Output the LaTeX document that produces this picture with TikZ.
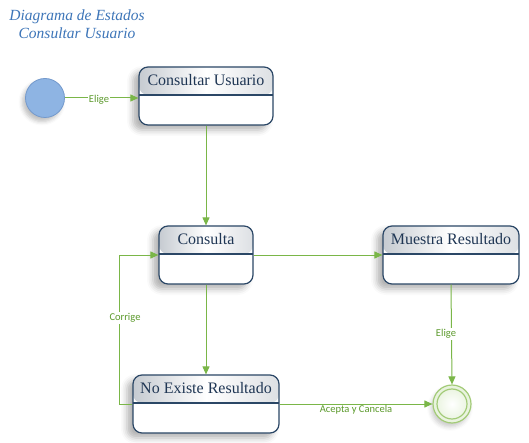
\documentclass[tikz,border=0pt]{standalone}
\usepackage{fontspec}
\setmainfont{Liberation Serif}
\newfontfamily\lblfont{Carlito}
\usetikzlibrary{arrows.meta,shadows.blur}
\definecolor{edgegreen}{HTML}{7AB648}
\definecolor{lblgreen}{HTML}{5C9A2C}
\definecolor{boxblue}{HTML}{2B4766}
\definecolor{boxtextc}{HTML}{1F3654}
\definecolor{titleblue}{HTML}{3D75B8}
\definecolor{hdrgray}{HTML}{C6CBD1}
\definecolor{initfill}{HTML}{8EB4E3}
\definecolor{initdraw}{HTML}{7399CC}
\definecolor{finaldraw}{HTML}{A3CB78}
\definecolor{finalfill}{HTML}{E6F2DA}
\begin{document}
\begin{tikzpicture}[x=1pt,y=-1pt,
  mybox/.style={draw=boxblue, line width=1.2pt, rounded corners=9pt, fill=white,
    blur shadow={shadow xshift=-6pt, shadow yshift=-5pt, shadow opacity=30, shadow blur radius=6pt},
    path picture={
      \shade[left color=hdrgray, right color=hdrgray!60, middle color=white]
        (path picture bounding box.north west) rectangle ([yshift=-28pt]path picture bounding box.north east);
      \draw[boxblue, line width=1.2pt] ([yshift=-28pt]path picture bounding box.north west) -- ([yshift=-28pt]path picture bounding box.north east);
    }},
  boxtext/.style={text=boxtextc, font=\fontsize{16}{18}\selectfont, inner sep=0pt},
  conn/.style={draw=edgegreen, line width=1pt, -{Triangle[length=8pt,width=7pt]}},
  lbl/.style={text=lblgreen, font=\lblfont\fontsize{10.5}{12}\selectfont, fill=white, inner sep=1pt}
]
\useasboundingbox (0,0) rectangle (529,443);

% title
\node[text=titleblue, font=\itshape\fontsize{15.5}{18}\selectfont, align=center] (title) at (77,24) {Diagrama de Estados\\Consultar Usuario};

% initial state
\node[circle, minimum size=39pt, inner sep=0pt, fill=initfill, draw=initdraw, line width=0.8pt,
  blur shadow={shadow xshift=-3pt, shadow yshift=-4pt, shadow opacity=25, shadow blur radius=4pt}] (init) at (45,98) {};

% boxes
\node[mybox, minimum width=134pt, minimum height=58pt] (cu) at (206,96) {};
\node[boxtext] (cut) at ([yshift=-14pt]cu.north) {Consultar Usuario};

\node[mybox, minimum width=94pt, minimum height=58pt] (co) at (206,255) {};
\node[boxtext] (cot) at ([yshift=-14pt]co.north) {Consulta};

\node[mybox, minimum width=136pt, minimum height=58pt] (mr) at (451,255) {};
\node[boxtext] (mrt) at ([yshift=-14pt]mr.north) {Muestra Resultado};

\node[mybox, minimum width=146pt, minimum height=58pt] (ne) at (206,404) {};
\node[boxtext] (net) at ([yshift=-14pt]ne.north) {No Existe Resultado};

% final state
\node[circle, minimum size=38pt, inner sep=0pt, draw=finaldraw, line width=1.2pt, inner color=white, outer color=finalfill,
  blur shadow={shadow xshift=-2pt, shadow yshift=-4pt, shadow opacity=20, shadow blur radius=4pt}] (fin) at (452,404) {};
\node[circle, minimum size=30pt, inner sep=0pt, draw=finaldraw, line width=1.2pt] (fini) at (fin.center) {};

% connectors
\draw[conn] (init.east) -- (cu.west |- init.east);
\draw[conn] (cu.south) -- (co.north);
\draw[conn] (co.east) -- (mr.west);
\draw[conn] (co.south) -- (ne.north);
\draw[conn] (mr.south) -- (fin.north);
\coordinate (cl) at (119,404);
\draw[conn] (ne.west) -- (cl) |- (co.west);
\draw[conn] (ne.east) -- (fin.west);

% labels
\node[lbl] (l1) at (99,100) {Elige};
\node[lbl] (l2) at (125,318) {Corrige};
\node[lbl] (l3) at (446,334) {Elige};
\node[lbl] (l4) at (356,410) {Acepta y Cancela};
\end{tikzpicture}
\end{document}
